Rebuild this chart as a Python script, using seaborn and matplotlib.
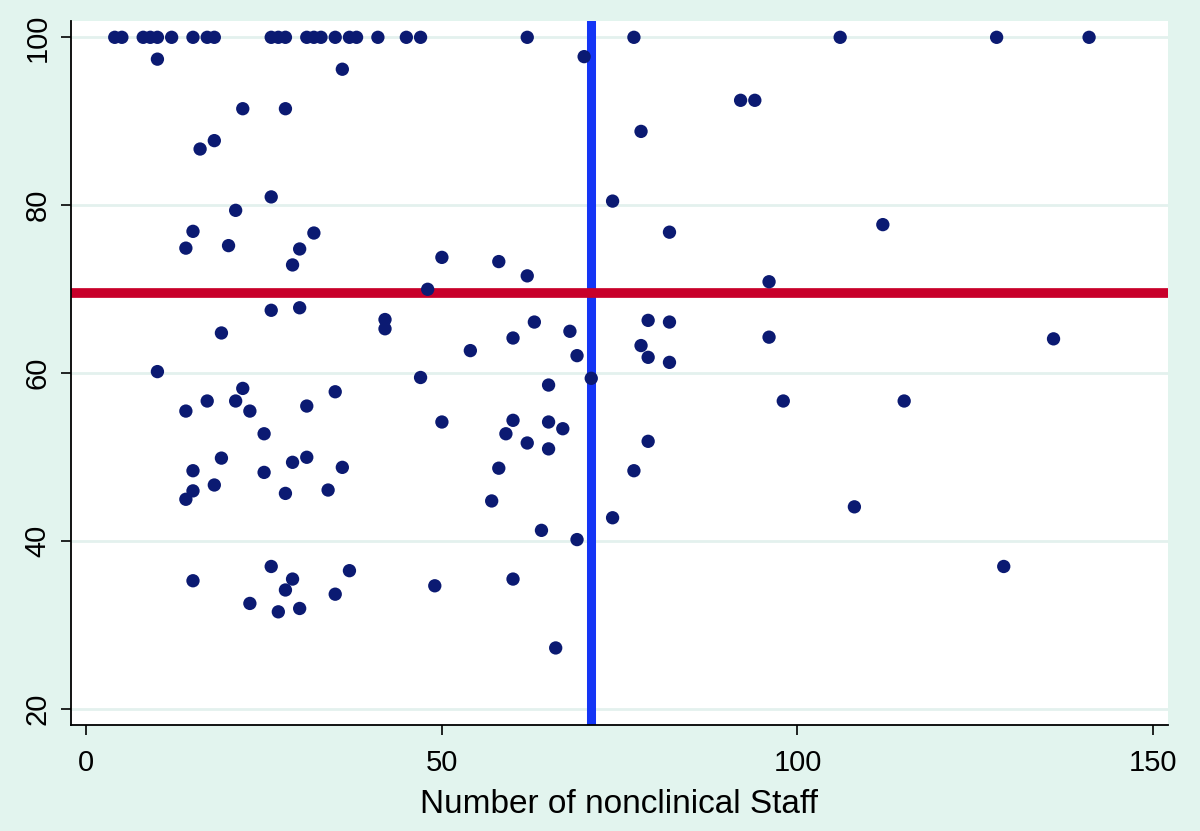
import matplotlib
matplotlib.use("Agg")
import matplotlib.pyplot as plt
from matplotlib import font_manager
import seaborn as sns
import pandas as pd

# ---- data ----
staff = [4, 5, 8, 9, 10, 12, 15, 17, 18, 26, 27, 28, 31, 32, 33, 35, 37, 38, 41, 45, 47, 62, 77, 106, 128, 141,
         10, 36, 22, 28, 16, 18, 26, 21, 15, 32, 14, 20, 30, 50, 29, 48, 26, 30, 42, 42, 19, 10, 47,
         14, 17, 21, 22, 23, 31, 35, 50, 25, 19, 15, 25, 29, 31, 36, 18, 15, 14, 28, 34,
         15, 26, 29, 28, 37, 35, 23, 27, 30, 49,
         70, 92, 94, 78, 74, 82, 58, 62, 96, 63, 60, 54, 68, 69, 71, 79, 82, 78, 79, 82, 96, 98,
         65, 60, 65, 67, 59, 62, 65, 79, 58, 77, 57, 64, 69, 74, 60, 66,
         108, 129, 136, 115, 112]
score = [100] * 26 + [
         97.4, 96.2, 91.5, 91.5, 86.7, 87.7, 81.0, 79.4, 76.9, 76.7, 74.9, 75.2, 74.8, 73.8, 72.9, 70.0, 67.5, 67.8,
         66.4, 65.3, 64.8, 60.2, 59.5,
         55.5, 56.7, 56.7, 58.2, 55.5, 56.1, 57.8, 54.2, 52.8, 49.9, 48.4, 48.2, 49.4, 50.0, 48.8, 46.7, 46.0, 45.0,
         45.7, 46.1,
         35.3, 37.0, 35.5, 34.2, 36.5, 33.7, 32.6, 31.6, 32.0, 34.7,
         97.7, 92.5, 92.5, 88.8, 80.5, 76.8, 73.3, 71.6, 70.9, 66.1, 64.2, 62.7, 65.0, 62.1, 59.4, 66.3, 66.1, 63.3,
         61.9, 61.3, 64.3, 56.7,
         58.6, 54.4, 54.2, 53.4, 52.8, 51.7, 51.0, 51.9, 48.7, 48.4, 44.8, 41.3, 40.2, 42.8, 35.5, 27.3,
         44.1, 37.0, 64.1, 56.7, 77.7]
mean_score = 69.6
mean_staff = 70.9
x_ticks = [0, 50, 100, 150]
y_ticks = [20, 40, 60, 80, 100]
x_label = "Number of nonclinical Staff"

df = pd.DataFrame({"staff": staff, "score": score})

sns.set_theme(style="white")
avail = {f.name for f in font_manager.fontManager.ttflist}
fam = [f for f in ["Liberation Sans Narrow", "Liberation Sans", "DejaVu Sans"] if f in avail]
plt.rcParams["font.family"] = fam

BG = "#e2f4ee"
GRID = "#e3f1ee"

fig = plt.figure(figsize=(12, 8.31), dpi=100, facecolor=BG)
ax = fig.add_axes([0.059, 0.1276, 0.914, 0.8471])
ax.set_facecolor("white")

for yt in y_ticks:
    ax.axhline(yt, color=GRID, lw=2, zorder=0)

ax.axvline(mean_staff, color="#1435f5", lw=6.5, zorder=1)
ax.axhline(mean_score, color="#c8002a", lw=7, zorder=1.5)

sns.scatterplot(data=df, x="staff", y="score", ax=ax, s=92, color="#0b1a72",
                edgecolor="none", linewidth=0, zorder=3)

ax.set_xlim(-2.18, 152.04)
ax.set_ylim(18.13, 101.94)
ax.set_xticks(x_ticks)
ax.set_yticks(y_ticks)
ax.set_xlabel(x_label, fontsize=24, labelpad=9, color="black")
ax.set_ylabel("")

for side in ["top", "right"]:
    ax.spines[side].set_visible(False)
for side in ["left", "bottom"]:
    ax.spines[side].set_visible(True)
    ax.spines[side].set_color("black")
    ax.spines[side].set_linewidth(1.3)

ax.tick_params(axis="both", which="major", direction="out", length=7, width=1.2,
               color="black", labelsize=21, labelcolor="black", left=True, bottom=True)
ax.tick_params(axis="x", pad=10)
ax.tick_params(axis="y", pad=7)
for lbl in ax.get_yticklabels():
    lbl.set_rotation(90)
    lbl.set_va("center")
ax.grid(False)

fig.savefig("out.png", dpi=100, facecolor=BG)
